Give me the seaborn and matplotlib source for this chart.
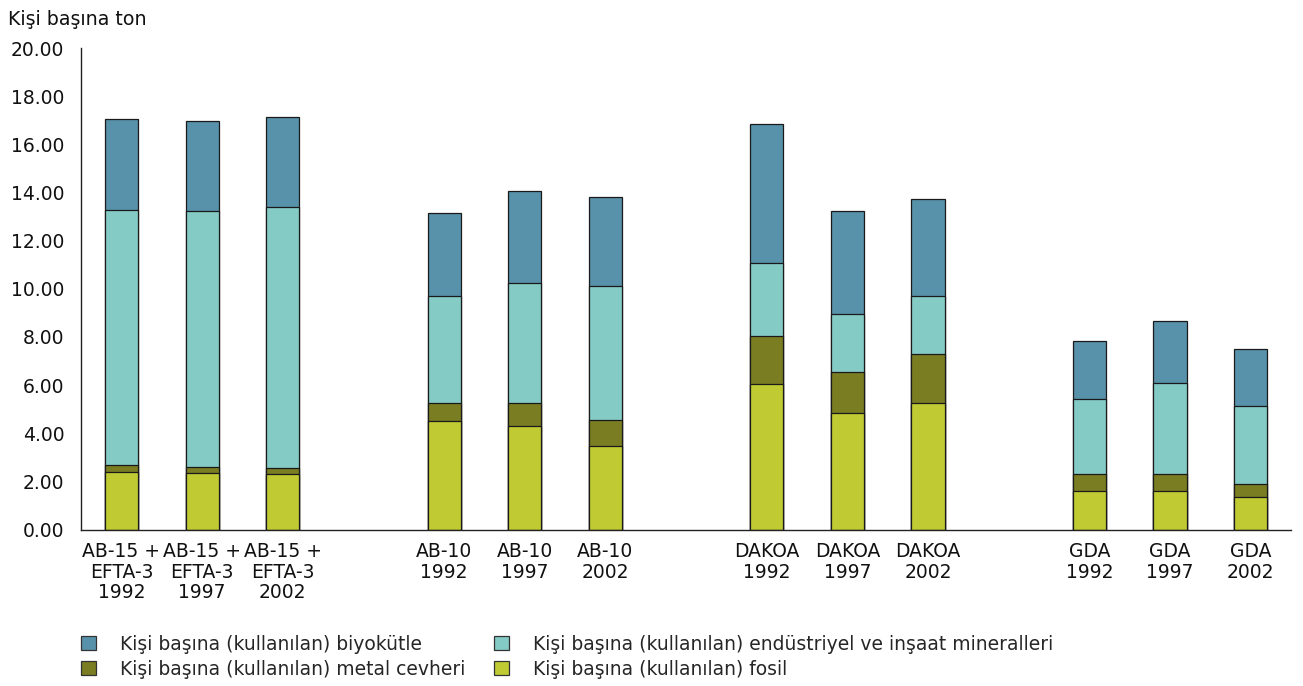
import matplotlib
matplotlib.use("Agg")
import matplotlib.pyplot as plt
from matplotlib.patches import Patch
from matplotlib.ticker import FixedLocator, FormatStrFormatter
import numpy as np
import pandas as pd
import seaborn as sns

# Region / year labels
labels = [
    "AB-15 +\nEFTA-3\n1992", "AB-15 +\nEFTA-3\n1997", "AB-15 +\nEFTA-3\n2002",
    "AB-10\n1992", "AB-10\n1997", "AB-10\n2002",
    "DAKOA\n1992", "DAKOA\n1997", "DAKOA\n2002",
    "GDA\n1992", "GDA\n1997", "GDA\n2002",
]

# Tonnes per capita by material group
fossil = [2.41, 2.36, 2.32, 4.52, 4.31, 3.48, 6.03, 4.84, 5.27, 1.58, 1.58, 1.34]
metal = [0.28, 0.25, 0.25, 0.75, 0.93, 1.08, 2.01, 1.72, 2.01, 0.74, 0.74, 0.57]
minerals = [10.60, 10.61, 10.81, 4.42, 5.00, 5.57, 3.05, 2.41, 2.41, 3.11, 3.76, 3.20]
biomass = [3.76, 3.73, 3.74, 3.45, 3.81, 3.70, 5.74, 4.25, 4.04, 2.40, 2.60, 2.40]

series_names = [
    "Kişi başına (kullanılan) biyokütle",
    "Kişi başına (kullanılan) endüstriyel ve inşaat mineralleri",
    "Kişi başına (kullanılan) metal cevheri",
    "Kişi başına (kullanılan) fosil",
]
colors = ["#5892AA", "#85CBC5", "#7A7D21", "#C0CA33"]

y_ticks = [0, 2, 4, 6, 8, 10, 12, 14, 16, 18, 20]

# Category order with an empty slot between region groups
gap_keys = ["gap1", "gap2", "gap3"]
order = labels[0:3] + [gap_keys[0]] + labels[3:6] + [gap_keys[1]] + \
    labels[6:9] + [gap_keys[2]] + labels[9:12]

fossil_a = np.array(fossil)
metal_a = np.array(metal)
minerals_a = np.array(minerals)
biomass_a = np.array(biomass)
# cumulative tops, from the full stack down to the bottom layer
layers = [
    fossil_a + metal_a + minerals_a + biomass_a,
    fossil_a + metal_a + minerals_a,
    fossil_a + metal_a,
    fossil_a,
]

sns.set_style("white")
plt.rcParams["font.family"] = ["DejaVu Sans"]

fig = plt.figure(figsize=(13.03, 6.86), dpi=100)
ax = fig.add_axes([0.0622, 0.2281, 0.9286, 0.7019])

for top, col in zip(layers, colors):
    df = pd.DataFrame({"label": labels, "value": top})
    sns.barplot(data=df, x="label", y="value", order=order, color=col,
                width=0.41, edgecolor="#1a1a1a", linewidth=0.9,
                saturation=1, ax=ax)

ax.set_xlim(-0.5, len(order) - 0.5)
ax.set_ylim(0, 20)
ax.yaxis.set_major_locator(FixedLocator(y_ticks))
ax.yaxis.set_major_formatter(FormatStrFormatter("%.2f"))
ax.set_xlabel("")
ax.set_ylabel("")

tick_text = ["" if k in gap_keys else k for k in order]
ax.set_xticks(range(len(order)))
ax.set_xticklabels(tick_text, fontsize=13.5, color="#111111", linespacing=1.1)
ax.set_xticks(np.arange(-0.5, len(order), 1.0), minor=True)
ax.tick_params(axis="x", which="major", length=0, pad=9)
ax.tick_params(axis="x", which="minor", length=6, width=1, color="#222222",
               direction="out")
ax.tick_params(axis="y", labelsize=13.5, length=6, width=1, color="#222222",
               direction="out", labelcolor="#111111", pad=6)

for side in ["top", "right"]:
    ax.spines[side].set_visible(False)
for side in ["left", "bottom"]:
    ax.spines[side].set_color("#222222")
    ax.spines[side].set_linewidth(1.0)

fig.text(0.006, 0.985, "Kişi başına ton", fontsize=13.7, color="#111111",
         ha="left", va="top")

# legend fills column by column: biomass / metal, then minerals / fossil
leg_idx = [0, 2, 1, 3]
handles = [Patch(facecolor=colors[i], edgecolor="#333333", linewidth=0.9)
           for i in leg_idx]
names = [series_names[i] for i in leg_idx]
fig.legend(handles, names, ncol=2, loc="upper left",
           bbox_to_anchor=(0.0625, 0.075), frameon=False, fontsize=13.5,
           handlelength=0.78, handleheight=0.75, handletextpad=1.3,
           columnspacing=1.5, labelspacing=0.33, borderpad=0.0,
           borderaxespad=0.0)

fig.savefig("out.png", dpi=100)
